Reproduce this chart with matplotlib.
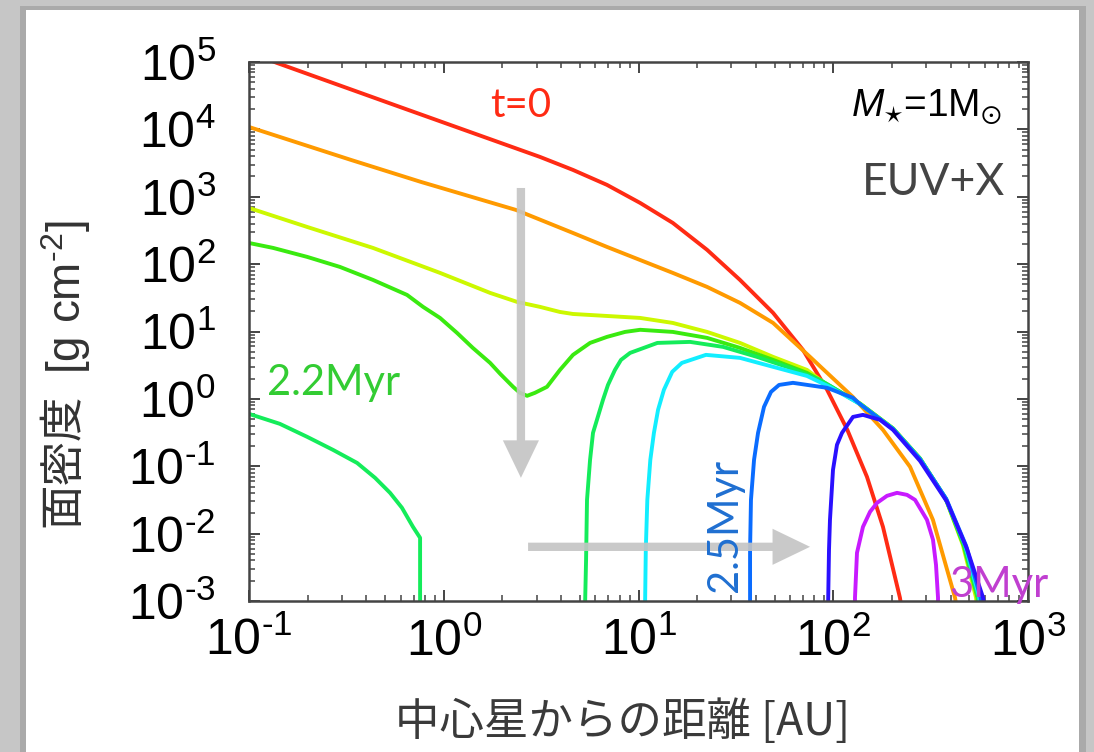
import matplotlib
matplotlib.use("Agg")
import matplotlib.pyplot as plt
import numpy as np
from matplotlib.ticker import LogLocator, NullFormatter, FuncFormatter
from matplotlib.patches import Rectangle

plt.rcParams['font.family'] = ['Liberation Sans', 'Noto Sans CJK JP', 'DejaVu Sans']
plt.rcParams['mathtext.fontset'] = 'custom'
plt.rcParams['mathtext.rm'] = 'Liberation Sans'
plt.rcParams['mathtext.it'] = 'Liberation Sans:italic'
plt.rcParams['mathtext.default'] = 'regular'

# 面密度の曲線 (半径 [AU], 面密度 [g cm^-2])
red_r = [0.1, 0.139, 0.596, 3.12, 4.61, 6.89, 10.2, 15.0, 22.5, 33.2, 49.1, 69.9, 92.9, 118, 149, 180, 220, 225]
red_s = [1.4e5, 9.7e4, 2.15e4, 3.9e3, 2.5e3, 1.5e3, 809, 409, 163, 58.3, 18.9, 5.33, 1.37, 0.349, 0.0696, 0.0126, 1.12e-3, 7.4e-4]

orange_r = [0.1, 0.334, 0.764, 2.35, 4.61, 6.89, 10.2, 15.0, 22.5, 33.2, 49.1, 76.0, 126, 180, 248, 325, 422, 432]
orange_s = [1.085e4, 3.52e3, 1.66e3, 637, 290, 180, 115, 74.1, 45.9, 26.6, 13.4, 4.2, 1.07, 0.347, 0.098, 0.016, 1.12e-3, 7.4e-4]

yellow_r = [0.1, 0.199, 0.433, 0.957, 1.73, 2.38, 3.12, 3.95, 4.61, 6.89, 10.2, 15.0, 22.5, 33.2, 49.1, 73.3, 92.9, 137, 203, 279, 377, 463, 541, 547]
yellow_s = [682, 356, 174, 74.1, 37.4, 27.5, 23.2, 19.5, 18.2, 17.0, 15.9, 13.4, 9.86, 6.77, 4.2, 2.69, 1.61, 0.86, 0.365, 0.131, 0.0334, 0.0068, 1.12e-3, 7.4e-4]

green_r = [0.1, 0.133, 0.199, 0.293, 0.433, 0.648, 0.783, 0.957, 1.17, 1.41, 1.73, 1.95, 2.27, 2.46, 2.68, 2.94, 3.39,
           3.95, 4.61, 5.64, 6.89, 8.53, 10.2, 15.0, 22.5, 33.2, 49.1, 73.3, 96.2, 137, 203, 279, 378, 468, 550, 556]
green_s = [206, 174, 128, 90.9, 58.3, 34.9, 23.2, 15.9, 9.53, 5.71, 3.42, 2.35, 1.51, 1.23, 1.11, 1.23, 1.51,
           2.69, 4.5, 6.77, 8.32, 9.86, 10.6, 9.86, 8.04, 5.71, 3.79, 2.43, 1.56, 0.85, 0.362, 0.13, 0.033, 0.0066, 1.12e-3, 7.4e-4]

# 2.2Myr (内側円盤と外側円盤)
inner_r = [0.1, 0.144, 0.199, 0.270, 0.359, 0.444, 0.530, 0.610, 0.695, 0.756, 0.756]
inner_s = [0.599, 0.426, 0.273, 0.175, 0.112, 0.0673, 0.0403, 0.0242, 0.0126, 0.00866, 7.4e-4]

outer_r = [5.31, 5.38, 5.44, 5.64, 5.84, 6.57, 6.97, 7.57, 8.13, 9.05, 12.5, 18.4, 27.2, 40.6, 60.0, 85.5, 137, 203, 279, 379, 472, 556, 562]
outer_s = [7.4e-4, 0.00408, 0.0317, 0.1245, 0.313, 0.966, 1.61, 2.69, 3.79, 4.81, 6.77, 7.01, 5.91, 4.2, 2.88, 1.91, 0.845, 0.36, 0.129, 0.0328, 0.0066, 1.12e-3, 7.4e-4]

cyan_r = [10.8, 10.9, 11.1, 11.5, 12.0, 12.6, 13.5, 14.9, 16.7, 22.2, 33.2, 49.1, 73.3, 96.2, 137, 203, 279, 379, 477, 563, 569]
cyan_s = [7.4e-4, 0.00575, 0.0317, 0.1245, 0.313, 0.687, 1.36, 2.52, 3.42, 4.5, 4.06, 2.99, 2.19, 1.5, 0.84, 0.358, 0.128, 0.0327, 0.0066, 1.12e-3, 7.4e-4]

blue_r = [37.4, 37.4, 37.8, 39.2, 41.1, 44.1, 47.9, 52.7, 62.1, 92.9, 126, 137, 203, 279, 381, 481, 571, 577]
blue_s = [7.4e-4, 0.00575, 0.0317, 0.1245, 0.313, 0.761, 1.27, 1.61, 1.73, 1.46, 1.04, 0.84, 0.356, 0.127, 0.0325, 0.0066, 1.12e-3, 7.4e-4]

dblue_r = [94.0, 95.1, 96.2, 99.7, 104.5, 110.9, 126.3, 142.1, 173.9, 202.7, 279, 384, 486, 588, 600]
dblue_s = [7.4e-4, 0.00575, 0.016, 0.0884, 0.208, 0.313, 0.54, 0.579, 0.488, 0.347, 0.12, 0.0296, 0.00595, 1.12e-3, 7.4e-4]

mag_r = [129.3, 129.3, 132.4, 142.1, 154.5, 167.8, 188.8, 212.5, 239.2, 263.0, 302.9, 325.2, 337.0, 345.1, 345.1]
mag_s = [7.4e-4, 1.12e-3, 0.00519, 0.0126, 0.0211, 0.0286, 0.0364, 0.0403, 0.0376, 0.0317, 0.016, 0.0081, 0.00344, 1.12e-3, 7.4e-4]

# 矢印 (時間の流れ)
down_arrow = [(2.49, 1350), (2.49, 0.0673)]
right_arrow = [(2.71, 0.00637), (76.0, 0.00637)]


def pow10(v, pos):
    e = int(round(np.log10(v)))
    return r'$\mathdefault{10^{%s}}$' % str(e).replace('-', '\u2010')


fig = plt.figure(figsize=(10.94, 7.52), dpi=100)
fig.patch.set_facecolor('#c6c6c6')

# 白い台紙と影
fig.patches.append(Rectangle((20 / 1094, 0), 1066 / 1094, 1 - 6 / 752, transform=fig.transFigure,
                             facecolor='#8f8f8f', edgecolor='none', alpha=0.5, zorder=-3))
fig.patches.append(Rectangle((26 / 1094, 0), 1053 / 1094, 1 - 10 / 752, transform=fig.transFigure,
                             facecolor='white', edgecolor='none', zorder=-2))

ax = fig.add_axes([249 / 1094, 1 - 601 / 752, 779 / 1094, 539 / 752])
ax.set_facecolor('white')
ax.set_xscale('log')
ax.set_yscale('log')

lw = 2.8
ax.plot(red_r, red_s, color='#ff2b14', lw=lw)
ax.plot(orange_r, orange_s, color='#ff9a00', lw=lw)
ax.plot(yellow_r, yellow_s, color='#ccf800', lw=lw)
ax.plot(green_r, green_s, color='#3aea10', lw=lw)
ax.plot(inner_r, inner_s, color='#14ec5a', lw=lw)
ax.plot(outer_r, outer_s, color='#14ec5a', lw=lw)
ax.plot(cyan_r, cyan_s, color='#12eeff', lw=lw)
ax.plot(blue_r, blue_s, color='#0a6cff', lw=lw)
ax.plot(dblue_r, dblue_s, color='#2a10ff', lw=lw)
ax.plot(mag_r, mag_s, color='#c81aff', lw=lw)

arrow_style = dict(arrowstyle='simple,head_length=1.35,head_width=1.3,tail_width=0.3',
                   color='#c4c4c4', alpha=0.9, lw=0, shrinkA=0, shrinkB=0, mutation_scale=20)
ax.annotate('', xy=down_arrow[1], xytext=down_arrow[0], arrowprops=arrow_style, zorder=5)
ax.annotate('', xy=right_arrow[1], xytext=right_arrow[0], arrowprops=arrow_style, zorder=5)

ax.set_xlim(0.1, 1000)
ax.set_ylim(1e-3, 1e5)

ax.xaxis.set_major_locator(LogLocator(base=10, numticks=20))
ax.yaxis.set_major_locator(LogLocator(base=10, numticks=20))
ax.xaxis.set_minor_locator(LogLocator(base=10, subs=np.arange(2, 10), numticks=100))
ax.yaxis.set_minor_locator(LogLocator(base=10, subs=np.arange(2, 10), numticks=100))
ax.xaxis.set_major_formatter(FuncFormatter(pow10))
ax.yaxis.set_major_formatter(FuncFormatter(pow10))
ax.xaxis.set_minor_formatter(NullFormatter())
ax.yaxis.set_minor_formatter(NullFormatter())

ax.tick_params(which='both', direction='in', top=True, right=True, color='#444444')
ax.tick_params(which='major', length=8, width=1.4, labelsize=36)
ax.tick_params(which='minor', length=4, width=1.1)
ax.tick_params(axis='x', which='major', pad=12)
ax.tick_params(axis='y', which='major', pad=24)
for sp in ax.spines.values():
    sp.set_linewidth(1.8)
    sp.set_color('#444444')

cjk = ['Noto Sans CJK JP', 'DejaVu Sans']
fig.text(623 / 1094, 1 - 722 / 752, '中心星からの距離 [AU]', ha='center', va='center',
         fontsize=32, color='#3a3a3a', family=cjk)
# 縦軸ラベル: 漢字部分と単位部分
fig.text(62 / 1094, 1 - 460 / 752, '面密度', ha='center', va='center', rotation=90,
         fontsize=32, color='#333333', family=cjk)
fig.text(66 / 1094, 1 - 297 / 752, '[g cm$^{\u20102}$]', ha='center', va='center', rotation=90,
         fontsize=33, color='#333333', family=['Liberation Sans'])

lato = ['Lato', 'DejaVu Sans']
ax.text(0.349, 0.898, 't=0', transform=ax.transAxes, ha='center', va='baseline',
        fontsize=29, color='#ff2b14', family=lato)
ax.text(0.9666, 0.898, r'$\mathit{M}_{\star}$=1M$_{\odot}$', transform=ax.transAxes, ha='right',
        va='baseline', fontsize=28, color='black')
ax.text(0.9705, 0.7532, 'EUV+X', transform=ax.transAxes, ha='right', va='baseline',
        fontsize=32, color='#444444', family=lato)
ax.text(0.0231, 0.3822, '2.2Myr', transform=ax.transAxes, ha='left', va='baseline',
        fontsize=30, color='#33cc33', family=lato)
ax.text(0.611, 0.141, '2.5Myr', transform=ax.transAxes, ha='center', va='center', rotation=90,
        fontsize=30, color='#1f6fd1', family=lato, zorder=6)
ax.text(0.8986, 0.0074, '3Myr', transform=ax.transAxes, ha='left', va='baseline',
        fontsize=30, color='#c03fd0', family=lato, clip_on=False, zorder=6)

fig.savefig('out.png', dpi=100, facecolor=fig.get_facecolor())
